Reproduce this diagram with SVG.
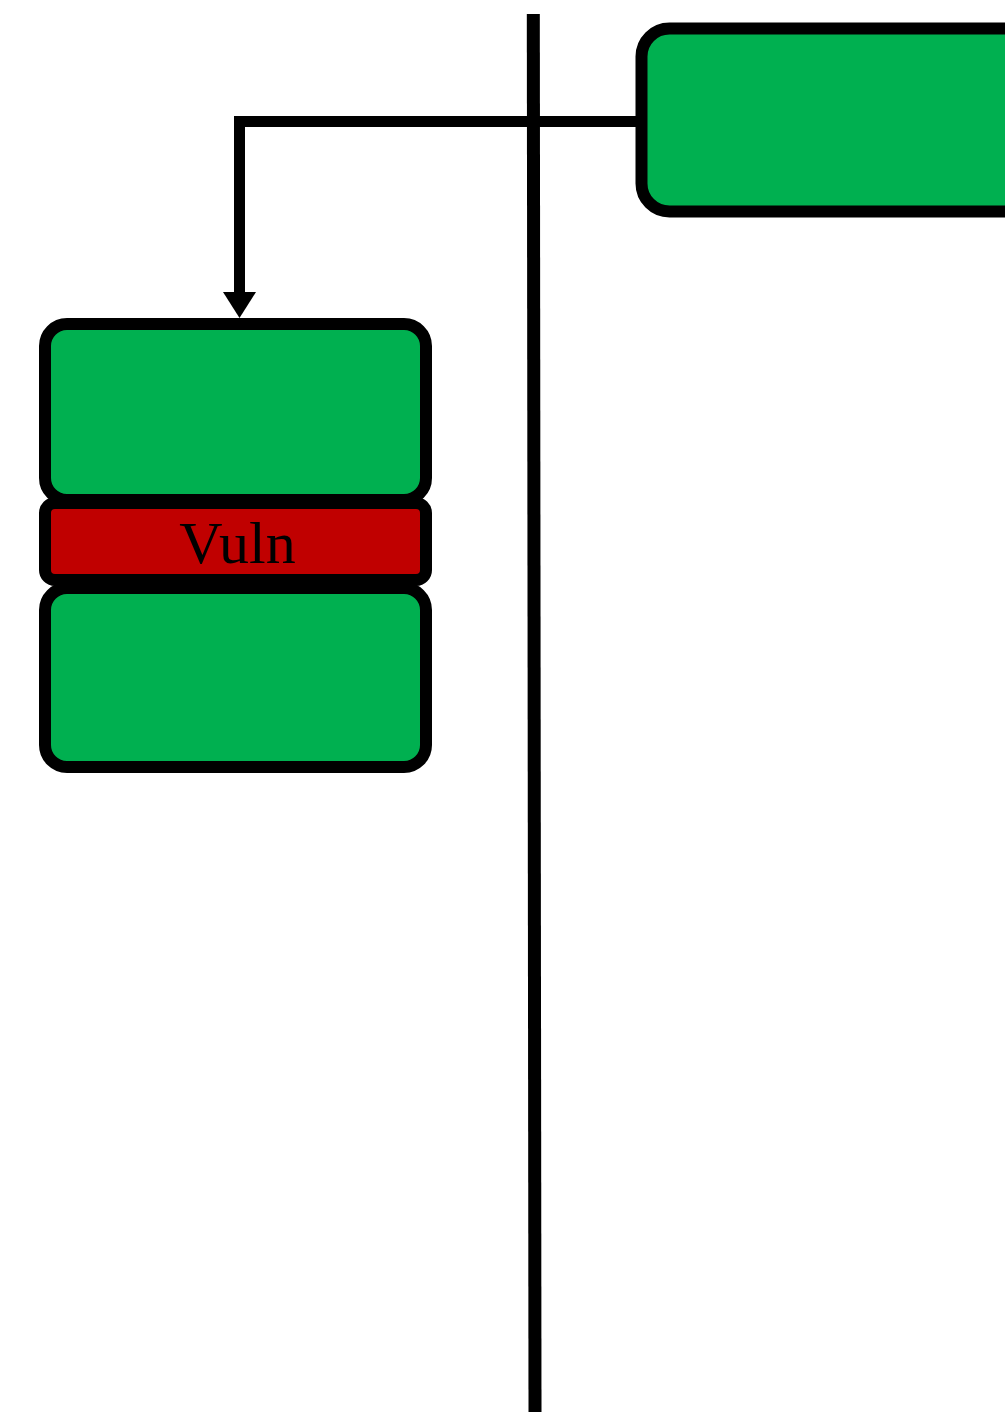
<svg xmlns="http://www.w3.org/2000/svg" width="1005" height="1412" viewBox="0 0 1005 1412">
  <defs>
    <style>
      .box { fill: #00B050; stroke: #000; stroke-width: 12; }
      .vuln { fill: #C00000; stroke: #000; stroke-width: 12; }
      .wire { fill: none; stroke: #000; stroke-width: 11; }
      .head { fill: #000; }
      .label { font-family: "Liberation Serif", "Times New Roman", serif; font-size: 60px; fill: #000; text-anchor: middle; }
    </style>
  </defs>
  <rect width="1005" height="1412" fill="#fff"/>

  <!-- boundary line -->
  <line x1="533.3" y1="14" x2="535" y2="1412" stroke="#000" stroke-width="13"/>

  <g id="connectors">
    <path class="wire" d="M636,121.5 H239.5 V294"/>
    <path class="head" d="M223,292 L256,292 L239.5,318 Z"/>
  </g>

  <g id="source-node">
    <rect class="box" x="641.5" y="28.5" width="420" height="183" rx="28" ry="28"/>
  </g>

  <g id="target-node">
    <rect class="box" x="45" y="324" width="381" height="176" rx="22" ry="22"/>
    <rect class="box" x="45" y="588" width="381" height="179" rx="22" ry="22"/>
    <rect class="vuln" x="45" y="503" width="381" height="77" rx="10" ry="10"/>
    <text class="label" x="237.5" y="563">Vuln</text>
  </g>
</svg>
